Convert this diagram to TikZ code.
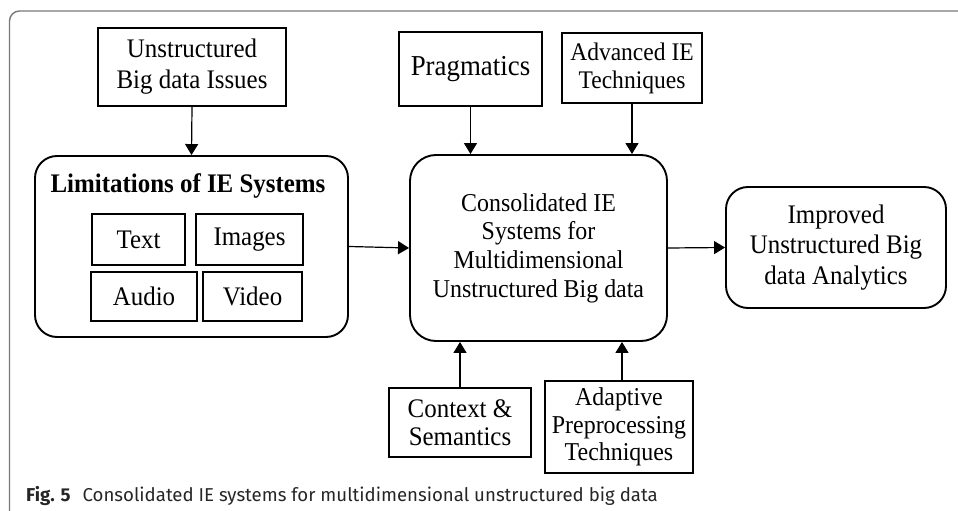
\documentclass[tikz,border=0pt]{standalone}
\usepackage{fontspec}
\setmainfont[FakeStretch=0.93]{Liberation Serif}
\newfontfamily\capfont{Fira Sans}
\usetikzlibrary{arrows.meta}
\newcommand{\fs}[2]{\fontsize{#1}{#2}\selectfont}
\begin{document}
\begin{tikzpicture}[x=1bp,y=-1bp,
  every node/.style={font=\fs{26.9}{30}, align=center, inner sep=0pt},
  thickbox/.style={draw, line width=1.9bp, minimum width=#1},
  thinbox/.style={draw, line width=1.1bp, minimum width=#1},
  roundbox/.style={draw, line width=1.9bp, rounded corners=22bp},
  conn/.style={line width=1.2bp, -{Triangle[length=11bp,width=13bp]}}
]
\useasboundingbox (0,0) rectangle (958,511);
% frame
\draw[gray!95!black, line width=1.4bp, rounded corners=10bp] (958,11) -- (9.5,11) -- (9.5,520);

\node[thickbox=188bp, minimum height=78bp, font=\fs{26.9}{31}] (unst) at (192,67) {Unstructured\\Big data Issues};
\node[roundbox, minimum width=313bp, minimum height=181bp] (lim) at (191.5,246.5) {};
\node[anchor=base, font=\fs{26.9}{30}\bfseries] (title) at (188,193) {Limitations of IE Systems};
\node[thinbox=93bp, minimum height=51bp] (text) at (138.5,239.5) {Text};
\node[thinbox=107bp, minimum height=51bp] (images) at (249.5,239.5) {Images};
\node[thinbox=106bp, minimum height=49bp] (audio) at (144,296.5) {Audio};
\node[thinbox=99bp, minimum height=49bp] (video) at (252.5,296.5) {Video};

\node[thickbox=143bp, minimum height=74bp, font=\fs{29}{32}] (prag) at (470.5,69) {Pragmatics};
\node[thinbox=140bp, minimum height=70bp, font=\fs{25.4}{28}] (adv) at (632,68) {Advanced IE\\Techniques};
\node[roundbox, rounded corners=26bp, minimum width=257bp, minimum height=186bp, font=\fs{25.8}{28.7}] (cons) at (538.5,248) {Consolidated IE\\Systems for\\Multidimensional\\Unstructured Big data};
\node[roundbox, minimum width=220bp, minimum height=121bp, font=\fs{26.9}{31}] (imp) at (836,247.5) {Improved\\Unstructured Big\\data Analytics};
\node[thickbox=142bp, minimum height=69bp, font=\fs{26.9}{28.5}] (ctx) at (460,422.5) {Context \&\\Semantics};
\node[thinbox=148bp, minimum height=92bp, font=\fs{25.8}{27.5}] (adp) at (619,427) {Adaptive\\Preprocessing\\Techniques};

\node[anchor=base west, font=\capfont\fs{18.7}{22}, text=black!85] (cap) at (26,501) {\textbf{Fig. 5}\hspace{12bp}Consolidated IE systems for multidimensional unstructured big data};

\draw[conn] (unst.south) -- (lim.north);
\draw[conn] (prag.south) -- (prag.south |- cons.north);
\draw[conn] (adv.south) -- (adv.south |- cons.north);
\draw[conn] (lim.east) -- (cons.west);
\draw[conn] (cons.east) -- (imp.west);
\draw[conn] (ctx.north) -- (ctx.north |- cons.south);
\draw[conn] ([xshift=3bp]adp.north) -- ([xshift=3bp]adp.north |- cons.south);
\end{tikzpicture}
\end{document}
